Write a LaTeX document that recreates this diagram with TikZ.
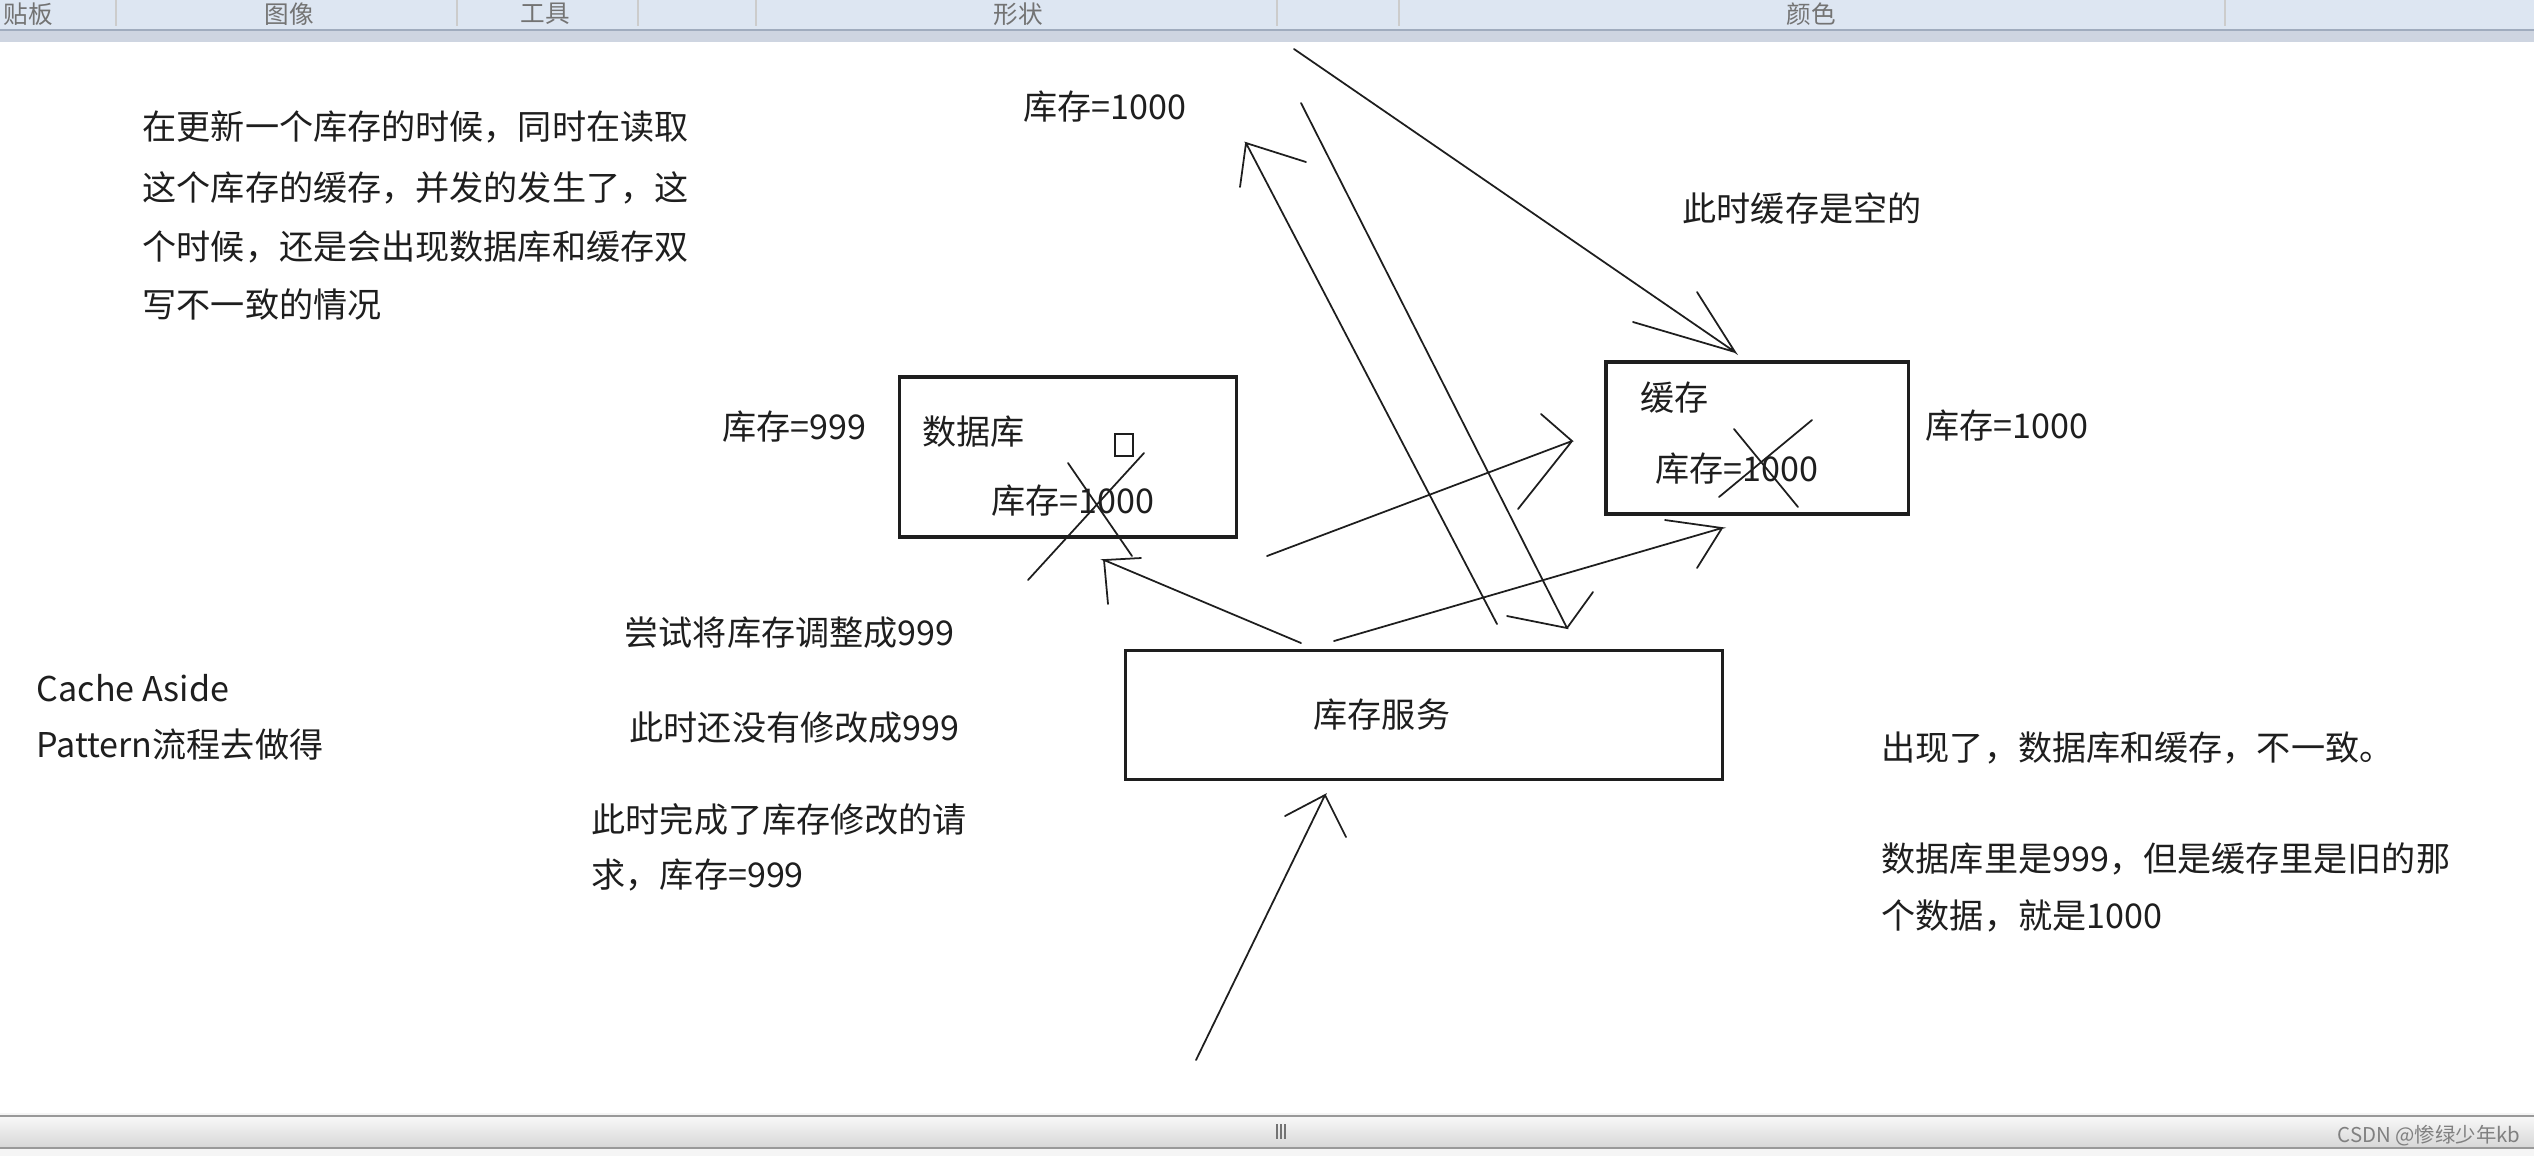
\documentclass[tikz,border=0pt]{standalone}
\usepackage{fontspec}
\setmainfont{Noto Sans CJK SC}
\usetikzlibrary{positioning}
\definecolor{barblue}{RGB}{221,230,242}
\definecolor{baredge}{RGB}{206,213,225}
\definecolor{barline}{RGB}{160,172,190}
\definecolor{ink}{RGB}{30,30,30}
\tikzset{box/.style = {draw=ink, line width=0.9pt, inner sep=0pt}}
\tikzset{sketch/.style = {draw=ink, line width=0.5pt, line cap=round}}
\tikzset{txt/.style = {inner sep=0pt, anchor=base west, text=ink,
                       font=\fontsize{9.7}{12}\selectfont}}
\tikzset{chrome/.style = {inner sep=0pt, text=black!55,
                          font=\fontsize{7}{8}\selectfont}}

\begin{document}
\begin{tikzpicture}[x=0.01cm, y=-0.01cm]
    \useasboundingbox (0,0) rectangle (2534,1156);
    \clip (0,0) rectangle (2534,1156);
    % paint window: ribbon and scroll bar
    \fill[barblue] (0,0) rectangle (2534,30);
    \fill[baredge] (0,30) rectangle (2534,42);
    \draw[barline, line width=0.8pt] (0,30) -- (2534,30);
    \foreach \x in {116,457,638,756,1277,1399,2225}
      \draw[white!60!gray, line width=0.4pt] (\x,0) -- (\x,26);
    \node[chrome, anchor=west] (rb1) at (3,14) {贴板};
    \node[chrome] (rb2) at (289,14) {图像};
    \node[chrome] (rb3) at (545,14) {工具};
    \node[chrome] (rb4) at (1018,14) {形状};
    \node[chrome] (rb5) at (1811,14) {颜色};
    \fill[black!4] (0,1113) rectangle (2534,1156);
    \shade[top color=black!3, bottom color=black!16] (0,1117) rectangle (2534,1148);
    \draw[black!40, line width=0.6pt] (0,1116) -- (2534,1116);
    \draw[black!40, line width=0.6pt] (0,1148) -- (2534,1148);
    \foreach \x in {1277,1281,1285}
      \draw[black!55, line width=0.4pt] (\x,1124) -- (\x,1139);
    \node[chrome, anchor=east, text=black!50, font=\fontsize{5.8}{7}\selectfont]
      (wm) at (2521,1136) {CSDN @惨绿少年kb};

    % boxes
    \node[box, minimum width=3.37cm, minimum height=1.6cm] (db) at (1068,457) {};
    \node[box, minimum width=3.02cm, minimum height=1.52cm] (cache) at (1757,438) {};
    \node[box, minimum width=5.97cm, minimum height=1.29cm] (svc) at (1424,715) {};

    % texts
    \node[txt] (p1) at (142,139) {在更新一个库存的时候，同时在读取};
    \node[txt] (p2) at (142,200) {这个库存的缓存，并发的发生了，这};
    \node[txt] (p3) at (142,259) {个时候，还是会出现数据库和缓存双};
    \node[txt] (p4) at (142,317) {写不一致的情况};
    \node[txt] (oldval) at (1023,119) {库存=1000};
    \node[txt] (emptynote) at (1682,221) {此时缓存是空的};
    \node[txt] (dbval) at (722,439) {库存=999};
    \node[txt] (dblabel) at (922,444) {数据库};
    \node[txt] (dbold) at (991,513) {库存=1000};
    \node[draw=ink, line width=0.6pt, minimum width=0.18cm, minimum height=0.22cm,
          inner sep=0pt] (cursor) at (1124,445) {};
    \node[txt] (cachelabel) at (1640,410) {缓存};
    \node[txt] (cacheold) at (1655,481) {库存=1000};
    \node[txt] (cacheval) at (1925,438) {库存=1000};
    \node[txt] (svclabel) at (1313,727) {库存服务};
    \node[txt] (note1) at (624,645) {尝试将库存调整成999};
    \node[txt] (note2) at (629,740) {此时还没有修改成999};
    \node[txt] (note3a) at (591,832) {此时完成了库存修改的请};
    \node[txt] (note3b) at (591,887) {求，库存=999};
    \node[txt] (cal1) at (36,701) {Cache Aside};
    \node[txt] (cal2) at (36,757) {Pattern流程去做得};
    \node[txt] (res1) at (1881,760) {出现了，数据库和缓存，不一致。};
    \node[txt] (res2) at (1881,871) {数据库里是999，但是缓存里是旧的那};
    \node[txt] (res3) at (1881,928) {个数据，就是1000};

    % crossed out values
    \draw[sketch] (1068,463) -- (1132,556) (1144,453) -- (1028,580);
    \draw[sketch] (1734,429) -- (1798,507) (1812,420) -- (1719,497);

    % arrow ends
    \coordinate (reqS) at (1196,1060);  \coordinate (reqE) at (1325,795);
    \coordinate (updS) at (1301,643);   \coordinate (updE) at (1104,560);
    \coordinate (delS) at (1267,556);   \coordinate (delE) at (1572,441);
    \coordinate (setS) at (1334,641);   \coordinate (setE) at (1722,528);
    \coordinate (readS) at (1294,49);   \coordinate (readE) at (1735,352);
    \coordinate (rdbS) at (1497,624);   \coordinate (rdbE) at (1246,143);
    \coordinate (retS) at (1301,103);   \coordinate (retE) at (1567,628);

    % arrows, barbs drawn by hand
    \draw[sketch] (reqS) -- (reqE) -- ++(-40,21) (reqE) -- ++(21,42);
    \draw[sketch] (updS) -- (updE) -- ++(37,-2) (updE) -- ++(4,44);
    \draw[sketch] (delS) -- (delE) -- ++(-31,-27) (delE) -- ++(-54,68);
    \draw[sketch] (setS) -- (setE) -- ++(-57,-8) (setE) -- ++(-25,40);
    \draw[sketch] (readS) -- (readE) -- ++(-38,-60) (readE) -- ++(-102,-30);
    \draw[sketch] (rdbS) -- (rdbE) -- ++(60,19) (rdbE) -- ++(-6,44);
    \draw[sketch] (retS) -- (retE) -- ++(-60,-12) (retE) -- ++(26,-36);
\end{tikzpicture}
\end{document}
